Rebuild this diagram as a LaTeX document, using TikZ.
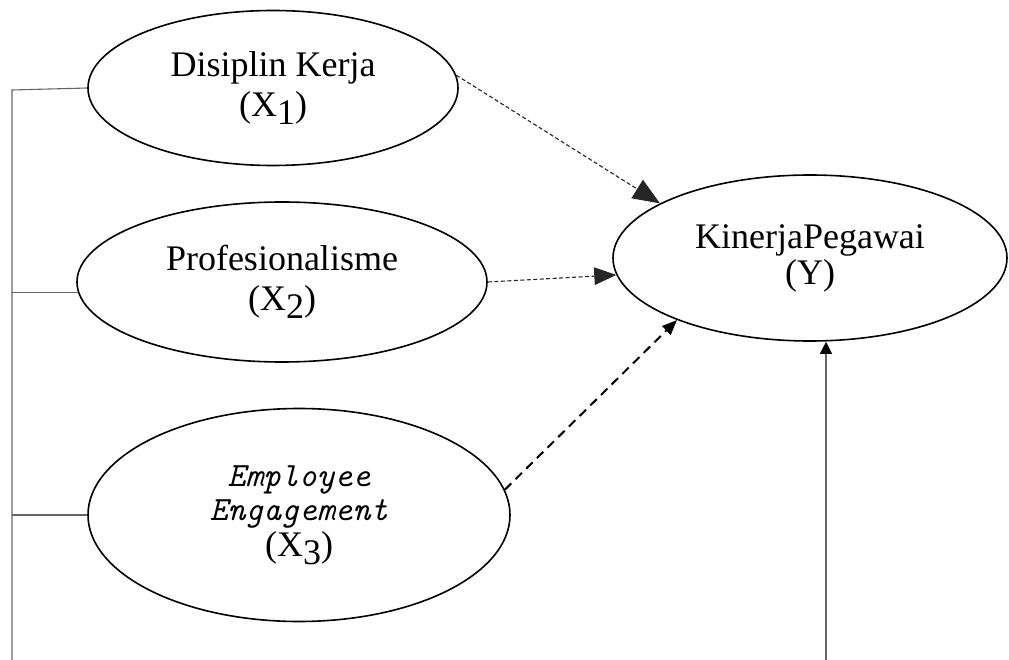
\documentclass[tikz,border=0pt]{standalone}
\usepackage{fontspec}
\setmainfont{Liberation Serif}
\usetikzlibrary{shapes.geometric,arrows.meta}
\newcommand{\subdig}[1]{\raisebox{-0.22em}{#1}}
\begin{document}
\begin{tikzpicture}[x=1pt,y=-1pt,
  latent/.style={ellipse,draw=black,line width=1.6pt,inner sep=0pt,align=center,
    font=\fontsize{36}{40}\selectfont},
  bracket/.style={draw=black!60,line width=1.1pt},
  dasharrow/.style={draw=black!85,line width=1.1pt,dash pattern=on 4pt off 2.5pt,
    -{Triangle[length=#1,width=0.8*#1]}},
  thickdash/.style={draw=black,line width=2pt,dash pattern=on 9pt off 6pt,
    -{Triangle[length=15pt,width=12pt]}},
  solidarrow/.style={draw=black!60,line width=1.1pt,-{Triangle[length=12pt,width=12pt,color=black,fill=black]}}
]
\useasboundingbox (0,0) rectangle (1009,660);

\node[latent,minimum width=370pt,minimum height=155pt] (d) at (273,88)
  {Disiplin Kerja\\(X\subdig{1})};
\node[latent,minimum width=410pt,minimum height=160pt] (p) at (282,282)
  {Profesionalisme\\(X\subdig{2})};
\node[latent,minimum width=422pt,minimum height=213pt,
  font=\fontsize{36}{34}\selectfont] (e) at (299,515)
  {{\ttfamily\itshape\fontsize{34}{33}\selectfont Employee}\\
   {\ttfamily\itshape\fontsize{34}{33}\selectfont Engagement}\\[2pt]
   (X\subdig{3})};
\node[latent,minimum width=394pt,minimum height=166pt,
  font=\fontsize{36}{36}\selectfont] (y) at (810,258)
  {KinerjaPegawai\\(Y)};

\coordinate (lt) at (12,90);
\coordinate (lb) at (12,660);
\coordinate (rb) at (826,660);

% left bracket
\draw[bracket] (lb) -- (lt) -- (d.west);
\draw[bracket] (p.183) -- (p.183 -| lt);
\draw[bracket] (e.west) -- (e.west -| lt);

% arrows to Y
\draw[dasharrow=27pt] (d.4) -- (y.160.7);
\draw[dasharrow=22pt] (p.east) -- (y.185.5);
\draw[thickdash] (e.7.85) -- (y.205.7);
\draw[solidarrow] (rb) -- (y.south -| rb);
\end{tikzpicture}
\end{document}
